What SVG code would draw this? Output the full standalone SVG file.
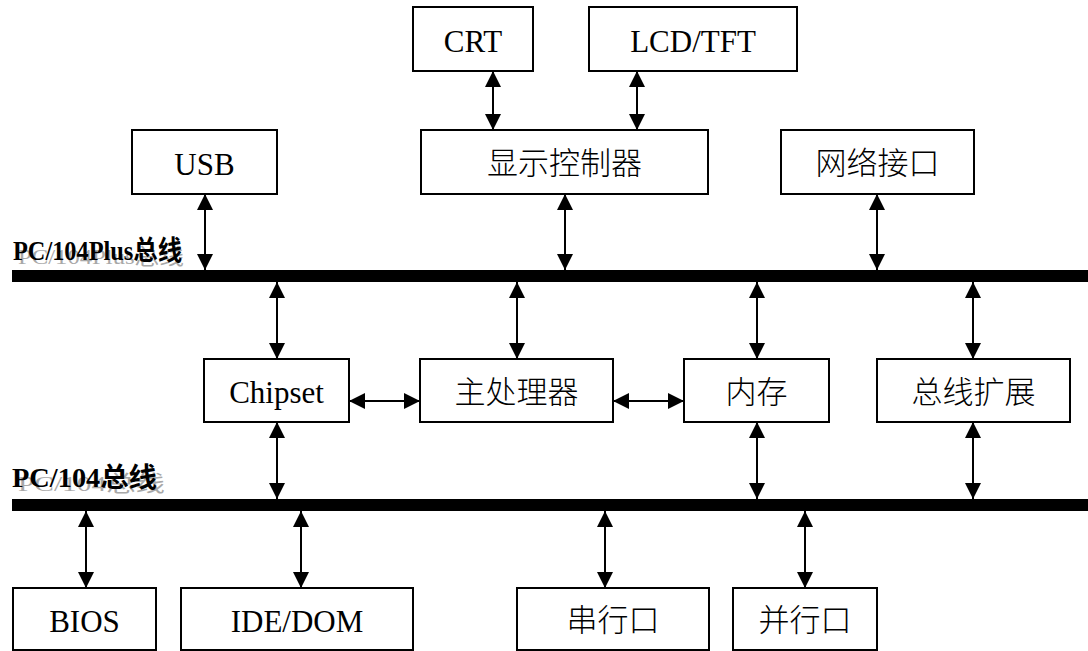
<svg xmlns="http://www.w3.org/2000/svg" width="1088" height="651" viewBox="0 0 1088 651">
<style>
.box{fill:#fff;stroke:#000;stroke-width:2}
.t{font-family:"Liberation Serif","Noto Sans CJK SC",serif;font-size:31px;text-anchor:middle;fill:#000}
.cjk{font-family:"Noto Sans CJK SC",sans-serif;font-weight:300;font-size:31px;text-anchor:middle;fill:#000}
.c{stroke:#000;stroke-width:2;fill:none;marker-start:url(#ah);marker-end:url(#ah)}
.bus{fill:#000}
.lab{font-family:"Liberation Serif","Noto Sans CJK SC",serif;font-weight:bold;font-size:27px;fill:#000}
.ghost{font-family:"Liberation Serif","Noto Sans CJK SC",serif;font-size:22px;fill:#a8a8a8}
</style>
<defs>
<marker id="ah" markerUnits="userSpaceOnUse" markerWidth="16" markerHeight="16" refX="16" refY="8" orient="auto-start-reverse">
<path d="M0,0 L16,8 L0,16 Z" fill="#000"/>
</marker>
</defs>
<rect width="1088" height="651" fill="#fff"/>
<g id="bus-pc104plus">
<rect class="bus" x="12" y="270" width="1076" height="12"/>
<text class="ghost" x="18" y="264" textLength="166" lengthAdjust="spacingAndGlyphs">PC/104Plus总线</text>
<text class="lab" x="13" y="260" textLength="169" lengthAdjust="spacingAndGlyphs">PC/104Plus总线</text>
</g>
<g id="bus-pc104">
<rect class="bus" x="12" y="499" width="1076" height="12"/>
<text class="ghost" x="18" y="491" textLength="147" lengthAdjust="spacingAndGlyphs">PC/104总线</text>
<text class="lab" x="12" y="487" textLength="145" lengthAdjust="spacingAndGlyphs">PC/104总线</text>
</g>
<g id="connectors">
<line class="c" x1="493" y1="71" x2="493" y2="130"/>
<line class="c" x1="637" y1="71" x2="637" y2="130"/>
<line class="c" x1="565" y1="194" x2="565" y2="270"/>
<line class="c" x1="205" y1="194" x2="205" y2="270"/>
<line class="c" x1="877" y1="194" x2="877" y2="270"/>
<line class="c" x1="277" y1="282" x2="277" y2="359"/>
<line class="c" x1="517" y1="282" x2="517" y2="359"/>
<line class="c" x1="757" y1="282" x2="757" y2="359"/>
<line class="c" x1="973" y1="282" x2="973" y2="359"/>
<line class="c" x1="349" y1="401" x2="420" y2="401"/>
<line class="c" x1="613" y1="401" x2="684" y2="401"/>
<line class="c" x1="277" y1="422" x2="277" y2="499"/>
<line class="c" x1="757" y1="422" x2="757" y2="499"/>
<line class="c" x1="973" y1="422" x2="973" y2="499"/>
<line class="c" x1="86" y1="511" x2="86" y2="588"/>
<line class="c" x1="301" y1="511" x2="301" y2="588"/>
<line class="c" x1="605" y1="511" x2="605" y2="588"/>
<line class="c" x1="805" y1="511" x2="805" y2="588"/>
</g>
<g id="crt"><rect class="box" x="413" y="7" width="120" height="64"/><text class="t" x="473" y="51.5">CRT</text></g>
<g id="lcd"><rect class="box" x="589" y="7" width="208" height="64"/><text class="t" x="693" y="51.5">LCD/TFT</text></g>
<g id="usb"><rect class="box" x="132" y="130" width="145" height="64"/><text class="t" x="204.5" y="174.5">USB</text></g>
<g id="display"><rect class="box" x="421" y="130" width="287" height="64"/><text class="cjk" x="564.5" y="174">显示控制器</text></g>
<g id="network"><rect class="box" x="781" y="130" width="193" height="64"/><text class="cjk" x="877.5" y="174">网络接口</text></g>
<g id="chipset"><rect class="box" x="204" y="359" width="145" height="63"/><text class="t" x="276.5" y="403">Chipset</text></g>
<g id="cpu"><rect class="box" x="420" y="359" width="193" height="63"/><text class="cjk" x="516.5" y="402.5">主处理器</text></g>
<g id="memory"><rect class="box" x="684" y="359" width="145" height="63"/><text class="cjk" x="756.5" y="402.5">内存</text></g>
<g id="busext"><rect class="box" x="877" y="359" width="193" height="63"/><text class="cjk" x="973.5" y="402.5">总线扩展</text></g>
<g id="bios"><rect class="box" x="13" y="588" width="143" height="62"/><text class="t" x="84.5" y="631.5">BIOS</text></g>
<g id="ide"><rect class="box" x="181" y="588" width="232" height="62"/><text class="t" x="297" y="631.5">IDE/DOM</text></g>
<g id="serial"><rect class="box" x="517" y="588" width="192" height="62"/><text class="cjk" x="613" y="631">串行口</text></g>
<g id="parallel"><rect class="box" x="733" y="588" width="144" height="62"/><text class="cjk" x="805" y="631">并行口</text></g>
</svg>
